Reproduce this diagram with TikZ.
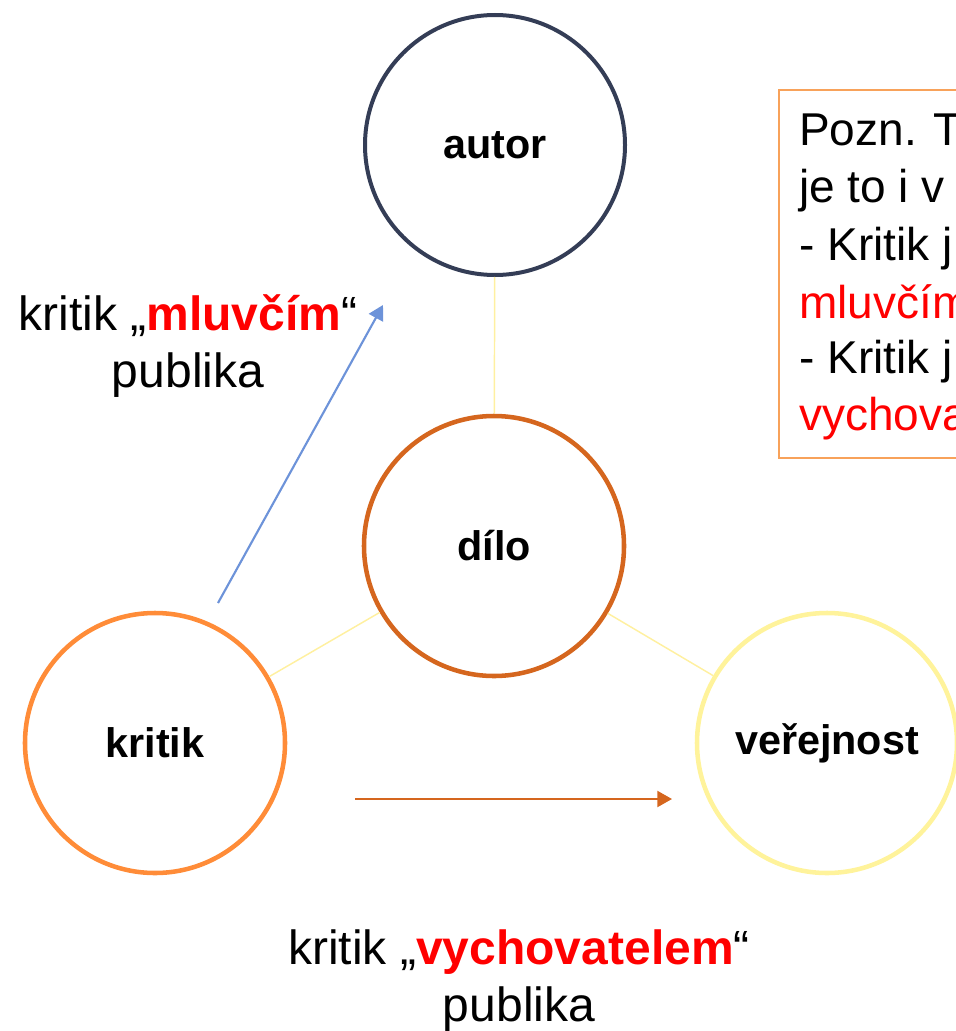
\documentclass[tikz,border=0pt]{standalone}
\usepackage{xcolor}
\usepackage{fontspec}
\setmainfont{Liberation Sans}
\usepackage{tikz}
\usetikzlibrary{arrows.meta, positioning}

\definecolor{autorcol}{HTML}{343D56}
\definecolor{dilocol}{HTML}{D5661E}
\definecolor{kritikcol}{HTML}{FF8C38}
\definecolor{verejcol}{HTML}{FFF39B}
\definecolor{spojcol}{HTML}{FFF0A0}
\definecolor{modracol}{HTML}{6D93D9}
\definecolor{ramcol}{HTML}{F8A25A}
\definecolor{cervena}{HTML}{FF0000}

\tikzset{
	kruh/.style={circle, draw, line width=3.4pt, minimum size=195pt, inner sep=0pt, font=\fontsize{31}{37}\selectfont\bfseries},
	spoj/.style={draw=spojcol, line width=1.1pt},
	sipka/.style={line width=1.6pt, -{Triangle[length=11pt,width=12pt]}},
	popis/.style={align=center, inner sep=0pt, font=\fontsize{36}{42.75}\selectfont},
	poznamka/.style={inner sep=0pt, anchor=base west, font=\fontsize{34.5}{42}\selectfont}
}

\begin{document}
\begin{tikzpicture}[x=0.75pt, y=-0.75pt]
	
	\clip (0,0) rectangle (956,1031);
	
	%//circles
	\node[kruh, draw=autorcol, line width=3pt] (autor) at (495,145) {autor};
	\node[kruh, draw=dilocol] (dilo) at (494,546) {dílo};
	\node[kruh, draw=kritikcol] (kritik) at (155,743) {kritik};
	\node[kruh, draw=verejcol] (verejnost) at (827,743) {veřejnost};
	
	\draw[spoj] (dilo) -- (autor);
	\draw[spoj] (dilo) -- (kritik);
	\draw[spoj] (dilo) -- (verejnost);
	
	%//arrows
	\coordinate (m1) at (218,603);
	\coordinate (m2) at (383,305);
	\draw[sipka, draw=modracol, fill=modracol] (m1) -- (m2);
	
	\coordinate (v1) at (355,799);
	\coordinate (v2) at (672,799);
	\draw[sipka, draw=dilocol, fill=dilocol] (v1) -- (v2);
	
	\node[popis] (mluvci) at (188,346) {kritik „\textcolor{cervena}{\textbf{mluvčím}}“\\publika};
	\node[popis] (vychovatel) at (519,981) {kritik „\textcolor{cervena}{\textbf{vychovatelem}}“\\publika};
	
	%//note box, cut at the right edge
	\draw[draw=ramcol, line width=1.5pt] (779,90) rectangle (1000,458);
	
	\foreach \y/\barva/\txt in {145/black/Pozn. T, 202/black/je to i v, 260/black/- Kritik j, 318/cervena/mluvčím, 373/black/- Kritik j, 430/cervena/vychova}
	\node[poznamka, text=\barva] (pozn\y) at (799,\y) {\txt};
	
\end{tikzpicture}
\end{document}
